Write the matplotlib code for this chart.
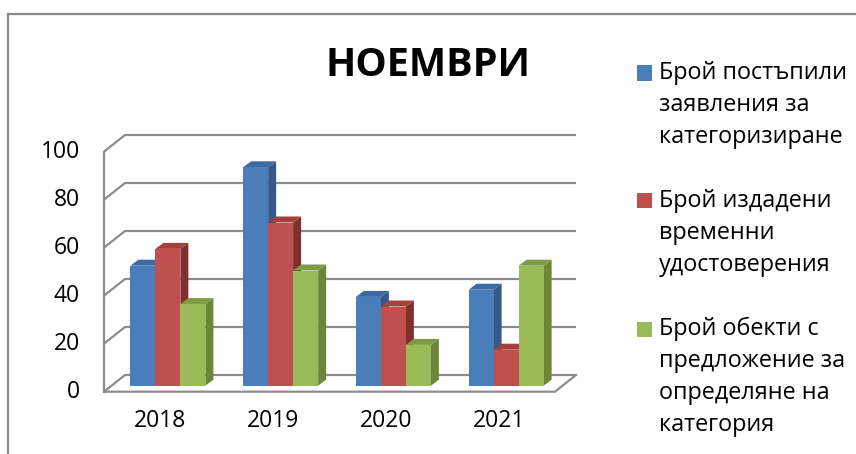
import matplotlib.pyplot as plt
from matplotlib.patches import Polygon, Rectangle
from matplotlib.lines import Line2D

plt.rcParams['font.family'] = ['Open Sans', 'DejaVu Sans']

years = ["2018", "2019", "2020", "2021"]
filed = [50, 91, 37, 40]
issued = [57, 68, 33, 15]
proposed = [34, 48, 17, 50]
yticks = [0, 20, 40, 60, 80, 100]
title = "НОЕМВРИ"
legend_lines = [
    ["Брой постъпили", "заявления за", "категоризиране"],
    ["Брой издадени", "временни", "удостоверения"],
    ["Брой обекти с", "предложение за", "определяне на", "категория"],
]

# face colours: front, side, top
palette = [
    ("#4a7ebb", "#36598a", "#3d6aa5"),
    ("#c0504d", "#7f2f2d", "#a5403c"),
    ("#9bbb59", "#6a8636", "#7f9c44"),
]
grid_c = "#8c8c8c"

W, H = 856, 454
fig = plt.figure(figsize=(W / 100, H / 100), dpi=100)
ax = fig.add_axes([0, 0, 1, 1])
ax.axis("off")

# pixel mapping of the front plane: x=-0.5 -> 104px, 112.75 px per category; y=0 -> 391.7px, 2.4 px per unit
px_cat, px_val = 112.75, 2.4
ax.set_xlim(-0.5 - 104 / px_cat, -0.5 + (W - 104) / px_cat)
ax.set_ylim((391.7 - H) / px_val, 391.7 / px_val)

n = len(years)
x_left, x_right = -0.5, n - 0.5
ddx, ddy = 21 / px_cat, 16.7 / px_val  # full depth of floor/walls
bdx0, bdy0 = 7.5 / px_cat, 2.5  # bar front face offset
bdx, bdy = 8 / px_cat, 2.5  # bar depth
bw = 25 / px_cat

# walls and gridlines
for v in yticks:
    ax.plot([x_left, x_left + ddx, x_right + ddx], [v, v + ddy, v + ddy],
            color=grid_c, lw=1.6, solid_capstyle="butt", zorder=1)
ax.plot([x_left, x_left], [0, yticks[-1]], color=grid_c, lw=1.6, zorder=1)
ax.plot([x_left, x_right, x_right + ddx], [0, 0, ddy], color=grid_c, lw=1.6, zorder=1)

# 3d-looking bars
series = [filed, issued, proposed]
z = 2
for i in range(n):
    for s, vals in enumerate(series):
        front, side, top = palette[s]
        x0 = i + (s - 1.5) * bw + bdx0
        y0 = bdy0
        h = vals[i]
        ax.add_patch(Polygon([(x0 + bw, y0), (x0 + bw + bdx, y0 + bdy),
                              (x0 + bw + bdx, y0 + h + bdy), (x0 + bw, y0 + h)],
                             closed=True, facecolor=side, edgecolor="none", zorder=z))
        ax.add_patch(Polygon([(x0, y0 + h), (x0 + bw, y0 + h),
                              (x0 + bw + bdx, y0 + h + bdy), (x0 + bdx, y0 + h + bdy)],
                             closed=True, facecolor=top, edgecolor="none", zorder=z))
        ax.bar(x0, h, width=bw, bottom=y0, align="edge", color=front,
               edgecolor="none", zorder=z)
        z += 1

# tick labels
for v in yticks:
    ax.text(-0.5 - 24 / px_cat, v, str(v), ha="right", va="center",
            fontsize=16.5, color="#000000")
for i, yr in enumerate(years):
    ax.text(i, -12.2, yr, ha="center", va="center", fontsize=16.5, color="#000000")

# title
fig.text(428 / W, 1 - 65 / H, title, ha="center", va="center",
         fontsize=28.5, fontweight="bold", color="#000000")

# legend
k = 0
for s, lines in enumerate(legend_lines):
    y_first = 73 + 32 * k
    fig.patches.append(Rectangle((637 / W, 1 - (y_first + 7.5) / H), 15 / W, 15 / H,
                                 transform=fig.transFigure, facecolor=palette[s][0],
                                 edgecolor="none"))
    for line in lines:
        fig.text(659 / W, 1 - (73 + 32 * k) / H, line, ha="left", va="center",
                 fontsize=16.8, color="#000000")
        k += 1
    k += 1

# outer frame (top and left edges only visible)
fig.lines.append(Line2D([8 / W, 1], [1 - 14 / H, 1 - 14 / H], transform=fig.transFigure,
                        color="#888888", lw=1.6))
fig.lines.append(Line2D([8 / W, 8 / W], [0, 1 - 14 / H], transform=fig.transFigure,
                        color="#888888", lw=1.6))

fig.savefig("out.png", dpi=100, facecolor="white")
